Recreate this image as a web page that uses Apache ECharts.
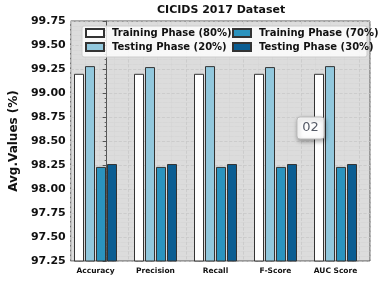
<!DOCTYPE html>
<html><head><meta charset="utf-8">
<script src="https://cdn.jsdelivr.net/npm/echarts@6/dist/echarts.min.js"></script>
<style>html,body{margin:0;padding:0;background:#fff}#c{width:379px;height:285px}</style>
</head><body><div id="c"></div>
<script>
var categories = ['Accuracy', 'Precision', 'Recall', 'F-Score', 'AUC Score'];
var train80 = [99.20, 99.20, 99.20, 99.20, 99.20];
var test20 = [99.28, 99.27, 99.28, 99.27, 99.28];
var train70 = [98.23, 98.23, 98.23, 98.23, 98.23];
var test30 = [98.26, 98.26, 98.26, 98.26, 98.26];
var seriesNames = ['Training Phase (80%)', 'Testing Phase (20%)', 'Training Phase (70%)', 'Testing Phase (30%)'];
var colors = ['#ffffff', '#92c8dd', '#2b93be', '#0a5d92'];
var yTicks = { min: 97.25, max: 99.75, step: 0.25 };

var FONT = 'DejaVu Sans';
var chart = echarts.init(document.getElementById('c'), null, { renderer: 'canvas' });
var dataSets = [train80, test20, train70, test30];
var series = dataSets.map(function (d, i) {
  return {
    name: seriesNames[i], type: 'bar', xAxisIndex: 0, yAxisIndex: 0,
    data: d, barWidth: 10, barGap: '10%',
    itemStyle: { color: colors[i], borderColor: '#333', borderWidth: 1 },
    z: 3
  };
});
series.push({ type: 'line', xAxisIndex: 1, yAxisIndex: 1, data: [], silent: true });

chart.setOption({
  animation: false,
  backgroundColor: '#ffffff',
  grid: [
    { left: 65.5, top: 21, width: 300, height: 240, show: false },
    { left: 58, top: 21, width: 312, height: 240, show: true, backgroundColor: '#dcdcdc', borderColor: '#555', borderWidth: 1 }
  ],
  xAxis: [
    { type: 'category', gridIndex: 0, data: categories,
      axisLine: { show: false }, axisTick: { show: false }, splitLine: { show: false },
      axisLabel: { margin: 6, fontFamily: FONT, fontWeight: 'bold', fontSize: 7.5, color: '#111' } },
    { type: 'value', gridIndex: 1, min: -0.625, max: 4.575, interval: 1,
      axisLine: { show: false }, axisLabel: { show: false },
      axisTick: { show: false },
      splitLine: { show: true, lineStyle: { color: '#c8c8c8', type: 'dashed', width: 0.8 } },
      minorTick: { show: false, splitNumber: 4 },
      minorSplitLine: { show: true, lineStyle: { color: '#d0d0d0', type: 'dotted', width: 0.6 } } }
  ],
  yAxis: [
    { type: 'value', gridIndex: 0, min: yTicks.min, max: yTicks.max, interval: yTicks.step, show: false },
    { type: 'value', gridIndex: 1, min: yTicks.min, max: yTicks.max, interval: yTicks.step,
      name: 'Avg.Values (%)', nameLocation: 'middle', nameGap: 44,
      nameTextStyle: { fontFamily: FONT, fontWeight: 'bold', fontSize: 12, color: '#111' },
      axisLine: { show: true, lineStyle: { color: '#555' } },
      axisTick: { show: true, length: 4, lineStyle: { color: '#555' } },
      minorTick: { show: true, splitNumber: 5, length: 2, lineStyle: { color: '#666' } },
      axisLabel: { margin: 5, fontFamily: FONT, fontWeight: 'bold', fontSize: 11, color: '#111',
        formatter: function (v) { return v.toFixed(2); } },
      splitLine: { show: true, lineStyle: { color: '#c8c8c8', type: 'dashed', width: 0.8 } },
      minorSplitLine: { show: true, lineStyle: { color: '#d0d0d0', type: 'dotted', width: 0.6 } } }
  ],
  legend: [
    { orient: 'vertical', left: 85, top: 28, padding: 0, itemGap: 4, itemWidth: 18, itemHeight: 8,
      icon: 'rect', data: [seriesNames[0], seriesNames[1]],
      textStyle: { fontFamily: FONT, fontWeight: 'bold', fontSize: 10, color: '#111', padding: [0, 0, 0, 3] } },
    { orient: 'vertical', left: 232, top: 28, padding: 0, itemGap: 4, itemWidth: 18, itemHeight: 8,
      icon: 'rect', data: [seriesNames[2], seriesNames[3]],
      textStyle: { fontFamily: FONT, fontWeight: 'bold', fontSize: 10, color: '#111', padding: [0, 0, 0, 3] } }
  ],
  graphic: [
    { type: 'text', left: 157, top: 5, z: 10,
      style: { text: 'CICIDS 2017 Dataset', font: 'bold 11px "DejaVu Sans"', fill: '#111' } },
    { type: 'rect', shape: { x: 82, y: 26, width: 285, height: 31, r: 2 }, z: 3,
      style: { fill: 'rgba(255,255,255,0.8)', stroke: '#cccccc', lineWidth: 1 } },
    { type: 'rect', shape: { x: 297, y: 117, width: 27, height: 22, r: 3 }, z: 20,
      style: { fill: '#fdfdfd', stroke: '#bbbbbb', lineWidth: 1, shadowBlur: 4, shadowOffsetX: 1, shadowOffsetY: 2, shadowColor: 'rgba(0,0,0,0.35)' } },
    { type: 'text', x: 310.5, y: 128, z: 21,
      style: { text: '02', font: '13px "DejaVu Sans"', fill: '#555a66', align: 'center', verticalAlign: 'middle' } }
  ],
  series: series
});
</script></body></html>
